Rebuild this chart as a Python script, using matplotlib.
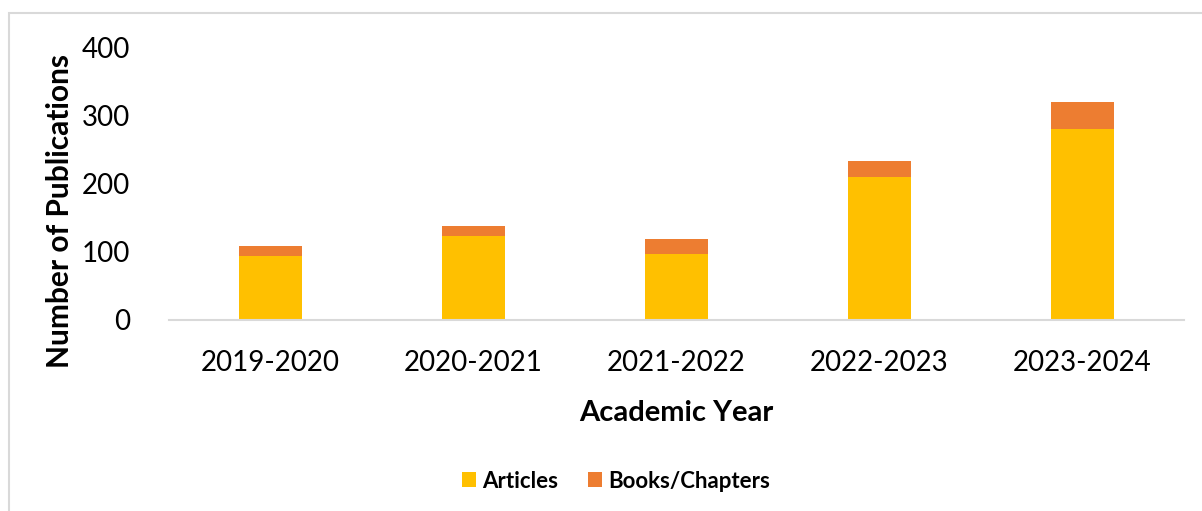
import matplotlib
matplotlib.use('Agg')
import matplotlib.pyplot as plt
from matplotlib.patches import Rectangle
import numpy as np

# Publications per academic year, stacked by type
years = ['2019-2020', '2020-2021', '2021-2022', '2022-2023', '2023-2024']
articles = [93, 123, 96, 210, 280]
books_chapters = [16, 15, 23, 23, 40]

yticks = [0, 100, 200, 300, 400]

plt.rcParams['font.family'] = ['Lato', 'DejaVu Sans']

W, H = 1202, 511
fig = plt.figure(figsize=(W / 100, H / 100), dpi=100, facecolor='white')

# light chart-area frame (top and left edges visible)
fig.add_artist(Rectangle((9 / W, -0.05), 1.1, (H - 13) / H + 0.05,
                         transform=fig.transFigure, fill=False,
                         edgecolor='#D9D9D9', linewidth=1.5))

ax = fig.add_axes([169 / W, (H - 319.7) / H, 1015 / W, 272.2 / H])

x = np.arange(len(years))
ax.bar(x, articles, width=0.315, color='#FFC000', label='Articles', zorder=2)
ax.bar(x, books_chapters, width=0.315, bottom=articles, color='#ED7D31',
       label='Books/Chapters', zorder=2)

ax.set_xlim(-0.5, len(years) - 0.5)
ax.set_ylim(0, 400)
ax.set_yticks(yticks)
ax.set_xticks(x)
ax.set_xticklabels(years)
ax.tick_params(axis='both', length=0, labelsize=20, colors='black')
ax.tick_params(axis='x', pad=22)
ax.tick_params(axis='y', pad=28)

for side in ['top', 'right', 'left']:
    ax.spines[side].set_visible(False)
ax.spines['bottom'].set_color('#D9D9D9')
ax.spines['bottom'].set_linewidth(1.5)

ax.set_xlabel('Academic Year', fontsize=21, fontweight='bold', labelpad=17)
ax.set_ylabel('Number of Publications', fontsize=21.5, fontweight='bold')
ax.yaxis.set_label_coords(-0.094, 0.40)

fig.legend(loc='center', bbox_to_anchor=(616 / W, 1 - 481 / H), ncol=2,
           frameon=False, prop={'weight': 'bold', 'size': 16},
           handlelength=0.63, handleheight=0.63, handletextpad=0.3,
           columnspacing=1.3)

fig.savefig('out.png', dpi=100, facecolor='white')
